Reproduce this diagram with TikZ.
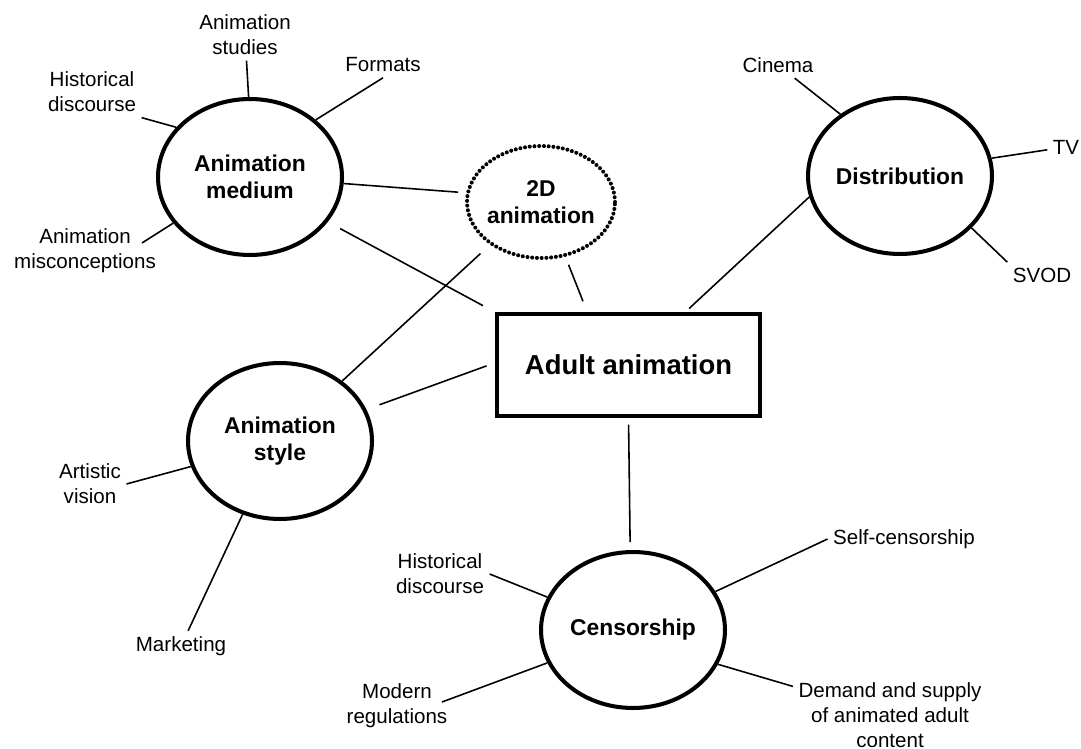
\documentclass[tikz,border=0pt]{standalone}
\usepackage{fontspec}
\setmainfont{Liberation Sans}
\usetikzlibrary{shapes.geometric}

\begin{document}
\begin{tikzpicture}[x=0.02cm,y=-0.02cm,
   bubble/.style={ellipse,draw,line width=2.3pt,minimum width=3.68cm,minimum height=3.12cm,inner sep=0pt,align=center,font=\fontsize{13}{15.3}\selectfont\bfseries},
   leaf/.style={align=center,inner sep=3pt,font=\fontsize{11.7}{14.2}\selectfont},
   link/.style={line width=0.9pt}]

   \useasboundingbox (0,0) rectangle (1081,749);

	 % centre and the five themes
	 \node[draw,line width=1.9pt,minimum width=5.26cm,minimum height=2.04cm,font=\fontsize{15.6}{18}\selectfont\bfseries] (adult) at (628.5,365) {Adult animation};

	 \node[bubble] (medium) at (250,177) {Animation\\medium};
	 \node[ellipse,draw,line width=2.3pt,dash pattern=on 0pt off 2.7pt,line cap=round,minimum width=2.96cm,minimum height=2.24cm,inner xsep=-2pt,inner ysep=0pt,align=center,font=\fontsize{13}{15.3}\selectfont\bfseries] (twoD) at (541,202) {2D\\animation};
	 \node[bubble] (distrib) at (900,176) {Distribution};
	 \node[bubble] (style) at (280,441) {Animation\\style};
	 \node[bubble] (censor) at (633,630) {Censorship};

	 % leaves
	 \node[leaf] (studies) at (245,35) {Animation\\studies};
	 \node[leaf] (histA) at (92,92) {Historical\\discourse};
	 \node[leaf] (formats) at (383,65) {Formats};
	 \node[leaf] (misconc) at (85,251) {Animation\\misconceptions};
	 \node[leaf] (cinema) at (778,65) {Cinema};
	 \node[leaf] (tv) at (1066,147) {TV};
	 \node[leaf] (svod) at (1042,275) {SVOD};
	 \node[leaf] (artistic) at (90,484) {Artistic\\vision};
	 \node[leaf] (marketing) at (181,646) {Marketing};
	 \node[leaf] (histB) at (440,574) {Historical\\discourse};
	 \node[leaf] (selfcens) at (904,539) {Self-censorship};
	 \node[leaf] (modern) at (397,706) {Modern\\regulations};
	 \node[leaf] (demand) at (890,715) {Demand and supply\\of animated adult\\content};

	 \coordinate (misconc-end) at (142,243);
	 \coordinate (modern-end) at (442,702);

	 % links between themes
	 \draw[link,shorten >=4.5pt] (medium.-4) -- (twoD.173);
	 \draw[link,shorten <=8pt,shorten >=8pt] (medium.-30) -- (adult.north west);
	 \draw[link,shorten <=7.3pt] (twoD.220) -- (style.44);
	 \draw[link,shorten <=4.8pt,shorten >=6.8pt] (twoD.-66) -- (adult.128);
	 \draw[link,shorten <=7.9pt,shorten >=5.3pt] (style.20) -- (adult.179);
	 \draw[link,shorten >=3.2pt] (distrib.193) -- (adult.43);
	 \draw[link,shorten <=4pt,shorten >=4.5pt] (adult.south) -- (censor.92);

	 % links to leaves
	 \draw[link] (medium.91) -- (studies);
	 \draw[link] (medium.146) -- (histA.south east);
	 \draw[link] (medium.41) -- (formats.south);
	 \draw[link] (medium.211) -- (misconc-end);
	 \draw[link] (distrib.134) -- (cinema);
	 \draw[link] (distrib.11) -- (tv);
	 \draw[link] (distrib.-36) -- (svod.north west);
	 \draw[link] (style.196) -- (artistic.east);
	 \draw[link] (style.243) -- (marketing);
	 \draw[link] (censor.159) -- (histB.east);
	 \draw[link] (censor.25) -- (selfcens.west);
	 \draw[link] (censor.201) -- (modern-end);
	 \draw[link] (censor.-22) -- (demand);

\end{tikzpicture}
\end{document}
